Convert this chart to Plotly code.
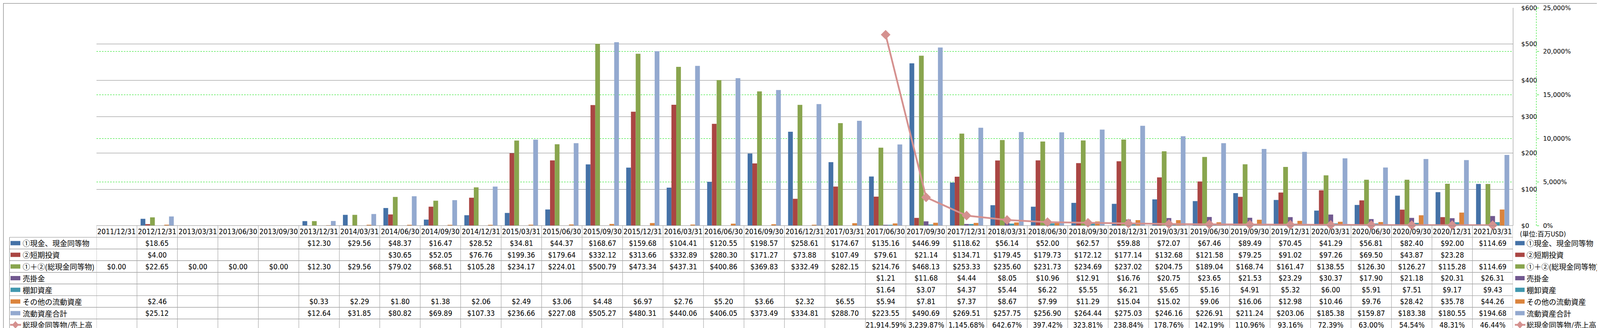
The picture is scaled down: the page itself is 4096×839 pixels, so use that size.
import plotly.graph_objects as go

N = None
dates = ["2011/12/31", "2012/12/31", "2013/03/31", "2013/06/30", "2013/09/30", "2013/12/31",
         "2014/03/31", "2014/06/30", "2014/09/30", "2014/12/31",
         "2015/03/31", "2015/06/30", "2015/09/30", "2015/12/31",
         "2016/03/31", "2016/06/30", "2016/09/30", "2016/12/31",
         "2017/03/31", "2017/06/30", "2017/09/30", "2017/12/31",
         "2018/03/31", "2018/06/30", "2018/09/30", "2018/12/31",
         "2019/03/31", "2019/06/30", "2019/09/30", "2019/12/31",
         "2020/03/31", "2020/06/30", "2020/09/30", "2020/12/31",
         "2021/03/31"]

cash = [N, 18.65, N, N, N, 12.30, 29.56, 48.37, 16.47, 28.52, 34.81, 44.37, 168.67, 159.68,
        104.41, 120.55, 198.57, 258.61, 174.67, 135.16, 446.99, 118.62, 56.14, 52.00, 62.57,
        59.88, 72.07, 67.46, 89.49, 70.45, 41.29, 56.81, 82.40, 92.00, 114.69]
short_inv = [N, 4.00, N, N, N, N, N, 30.65, 52.05, 76.76, 199.36, 179.64, 332.12, 313.66,
             332.89, 280.30, 171.27, 73.88, 107.49, 79.61, 21.14, 134.71, 179.45, 179.73, 172.12,
             177.14, 132.68, 121.58, 79.25, 91.02, 97.26, 69.50, 43.87, 23.28, N]
total_cash = [0.00, 22.65, 0.00, 0.00, 0.00, 12.30, 29.56, 79.02, 68.51, 105.28, 234.17, 224.01,
              500.79, 473.34, 437.31, 400.86, 369.83, 332.49, 282.15, 214.76, 468.13, 253.33,
              235.60, 231.73, 234.69, 237.02, 204.75, 189.04, 168.74, 161.47, 138.55, 126.30,
              126.27, 115.28, 114.69]
receivables = [N, N, N, N, N, N, N, N, N, N, N, N, N, N, N, N, N, N, N,
               1.21, 11.68, 4.44, 8.05, 10.96, 12.91, 16.76, 20.75, 23.65, 21.53, 23.29, 30.37,
               17.90, 21.18, 20.31, 26.31]
inventory = [N, N, N, N, N, N, N, N, N, N, N, N, N, N, N, N, N, N, N,
             1.64, 3.07, 4.37, 5.44, 6.22, 5.55, 6.21, 5.65, 5.16, 4.91, 5.32, 6.00, 5.91, 7.51,
             9.17, 9.43]
other_ca = [N, 2.46, N, N, N, 0.33, 2.29, 1.80, 1.38, 2.06, 2.49, 3.06, 4.48, 6.97, 2.76, 5.20,
            3.66, 2.32, 6.55, 5.94, 7.81, 7.37, 8.67, 7.99, 11.29, 15.04, 15.02, 9.06, 16.06,
            12.98, 10.46, 9.76, 28.42, 35.78, 44.26]
current_total = [N, 25.12, N, N, N, 12.64, 31.85, 80.82, 69.89, 107.33, 236.66, 227.08, 505.27,
                 480.31, 440.06, 406.05, 373.49, 334.81, 288.70, 223.55, 490.69, 269.51, 257.75,
                 256.90, 264.44, 275.03, 246.16, 226.91, 211.24, 203.06, 185.38, 159.87, 183.38,
                 180.55, 194.68]
ratio_pct = [N, N, N, N, N, N, N, N, N, N, N, N, N, N, N, N, N, N, N,
             21914.59, 3239.87, 1145.68, 642.67, 397.42, 323.81, 238.84, 178.76, 142.19, 110.96,
             93.16, 72.39, 63.00, 54.54, 48.31, 46.44]

names = ["①現金、現金同等物", "②短期投資", "①＋②(総現金同等物)", "売掛金", "棚卸資産",
         "その他の流動資産", "流動資産合計", "総現金同等物/売上高"]
colors = ["#4572A7", "#AA4643", "#89A54E", "#71588F", "#4198AF", "#DB843D", "#93A9CF", "#D5918F"]
bar_values = [cash, short_inv, total_cash, receivables, inventory, other_ca, current_total]

# ---------------- layout geometry (output pixels) ----------------
W, H = 4096, 839
ML, MR, MT, MB = 239, 16, 12, 270
PWP = W - ML - MR          # paper width
PH = H - MT - MB           # plot height
PLOT_R = 3865              # plot right edge px
AX2_X = 3925               # secondary axis px


def px2x(px):
    return (px - ML) / PWP


def px2y(py):
    return (H - MB - py) / PH


TABLE_TOP = H - MB
HEAD_H = 30
ROW_H = 29.85
LABEL_L = 16.4
n_cat = len(dates)

NUM_FONT = "Liberation Sans Narrow, Arial Narrow, DejaVu Sans Condensed, Noto Sans CJK JP, sans-serif"
JP_FONT = "Noto Sans CJK JP, sans-serif"
AX_FONT = "DejaVu Sans, Verdana, sans-serif"

fig = go.Figure()
for name, vals, col in zip(names[:7], bar_values, colors[:7]):
    fig.add_trace(go.Bar(x=dates, y=vals, name=name, marker=dict(color=col, line=dict(width=0)),
                         yaxis="y"))
fig.add_trace(go.Scatter(x=dates, y=ratio_pct, name=names[7], yaxis="y2", mode="lines+markers",
                         line=dict(color=colors[7], width=4.5),
                         marker=dict(symbol="diamond", size=19, color=colors[7]),
                         cliponaxis=False))

shapes = []
annotations = []

# outer border
shapes.append(dict(type="rect", xref="paper", yref="paper", x0=px2x(0.7), x1=px2x(W - 0.7),
                   y0=px2y(0.7), y1=px2y(H - 0.7), line=dict(color="#868686", width=1.3),
                   layer="above"))
# secondary axis dashed line
shapes.append(dict(type="line", xref="paper", yref="paper", x0=px2x(AX2_X), x1=px2x(AX2_X),
                   y0=0, y1=1, line=dict(color="#00E000", width=1, dash="4px,3px")))

row_lines = [TABLE_TOP, TABLE_TOP + HEAD_H] + [TABLE_TOP + HEAD_H + ROW_H * k for k in range(1, 9)]
bottom = row_lines[-1]
# horizontal lines
for k, yy in enumerate(row_lines):
    x0 = ML if k == 0 else LABEL_L
    shapes.append(dict(type="line", xref="paper", yref="paper", x0=px2x(x0), x1=px2x(PLOT_R),
                       y0=px2y(yy), y1=px2y(yy), line=dict(color="#8C8C8C", width=1.2)))
# vertical lines
shapes.append(dict(type="line", xref="paper", yref="paper", x0=px2x(LABEL_L), x1=px2x(LABEL_L),
                   y0=px2y(TABLE_TOP + HEAD_H), y1=px2y(bottom), line=dict(color="#8C8C8C", width=1.2)))
for i in range(n_cat + 1):
    shapes.append(dict(type="line", xref="x", yref="paper", x0=i - 0.5, x1=i - 0.5,
                       y0=px2y(TABLE_TOP), y1=px2y(bottom), line=dict(color="#A6A6A6", width=1.2)))

# header
hy = TABLE_TOP + HEAD_H / 2
for i, d in enumerate(dates):
    annotations.append(dict(x=i, y=px2y(hy), xref="x", yref="paper", text=d, showarrow=False,
                            xanchor="center", yanchor="middle",
                            font=dict(family=NUM_FONT, size=19, color="black")))


def fmt_usd(v):
    return "$" + f"{v:,.2f}"


def fmt_pct(v):
    return f"{v:,.2f}%"


all_rows = bar_values + [ratio_pct]
for r, vals in enumerate(all_rows):
    cy = TABLE_TOP + HEAD_H + ROW_H * (r + 0.5)
    for i, v in enumerate(vals):
        if v is None:
            continue
        txt = fmt_pct(v) if r == 7 else fmt_usd(v)
        annotations.append(dict(x=i, y=px2y(cy), xref="x", yref="paper", text=txt, showarrow=False,
                                xanchor="center", yanchor="middle",
                                font=dict(family=NUM_FONT, size=19, color="black")))
    # left label & key
    for (kx0, kx1, tx) in [(19, 44, 47.5), (3871, 3895, 3898)]:
        if r < 7:
            shapes.append(dict(type="rect", xref="paper", yref="paper", x0=px2x(kx0), x1=px2x(kx1),
                               y0=px2y(cy - 5.5), y1=px2y(cy + 5.5), fillcolor=colors[r],
                               line=dict(width=0)))
        else:
            shapes.append(dict(type="line", xref="paper", yref="paper", x0=px2x(kx0 - 1),
                               x1=px2x(kx1 + 2), y0=px2y(cy), y1=px2y(cy),
                               line=dict(color=colors[7], width=4.5)))
            cx = (kx0 + kx1) / 2
            w2, h2 = 8, 9
            path = (f"M {px2x(cx - w2)},{px2y(cy)} L {px2x(cx)},{px2y(cy - h2)} "
                    f"L {px2x(cx + w2)},{px2y(cy)} L {px2x(cx)},{px2y(cy + h2)} Z")
            shapes.append(dict(type="path", xref="paper", yref="paper", path=path,
                               fillcolor=colors[7], line=dict(color=colors[7], width=1)))
        annotations.append(dict(x=px2x(tx), y=px2y(cy), xref="paper", yref="paper", text=names[r],
                                showarrow=False, xanchor="left", yanchor="middle",
                                font=dict(family=JP_FONT, size=19, color="black")))

# unit label
annotations.append(dict(x=px2x(3881), y=px2y(591), xref="paper", yref="paper",
                        text="(単位:百万USD)", showarrow=False, xanchor="left", yanchor="middle",
                        font=dict(family=NUM_FONT, size=17, color="black")))

fig.update_layout(
    width=W, height=H,
    margin=dict(l=ML, r=MR, t=MT, b=MB, pad=0),
    paper_bgcolor="white", plot_bgcolor="white",
    showlegend=False, barmode="group", bargap=0.18, bargroupgap=0,
    xaxis=dict(type="category", domain=[0, px2x(PLOT_R)], range=[-0.5, n_cat - 0.5],
               showticklabels=False, showgrid=False, zeroline=False, showline=False, ticks="",
               automargin=False),
    yaxis=dict(range=[0, 600], dtick=100, tick0=0, side="right", tickprefix="$", tickformat=",d",
               showgrid=True, gridcolor="#868686", gridwidth=1.2, zeroline=False,
               showline=True, linecolor="#868686", linewidth=1.2, ticks="", ticklabelstandoff=17,
               tickfont=dict(family=AX_FONT, size=16, color="black"), automargin=False),
    yaxis2=dict(range=[0, 25000], dtick=5000, tick0=0, overlaying="y", side="right",
                anchor="free", position=px2x(AX2_X), ticksuffix="%", tickformat=",d",
                showgrid=True, gridcolor="#00E000", griddash="4px,3px", gridwidth=1,
                zeroline=False, showline=False, ticks="outside", ticklen=6, tickcolor="#00E000",
                ticklabelstandoff=7,
                tickfont=dict(family=AX_FONT, size=16, color="black"), automargin=False),
    shapes=shapes,
    annotations=annotations,
)

fig.write_html("out.html")
